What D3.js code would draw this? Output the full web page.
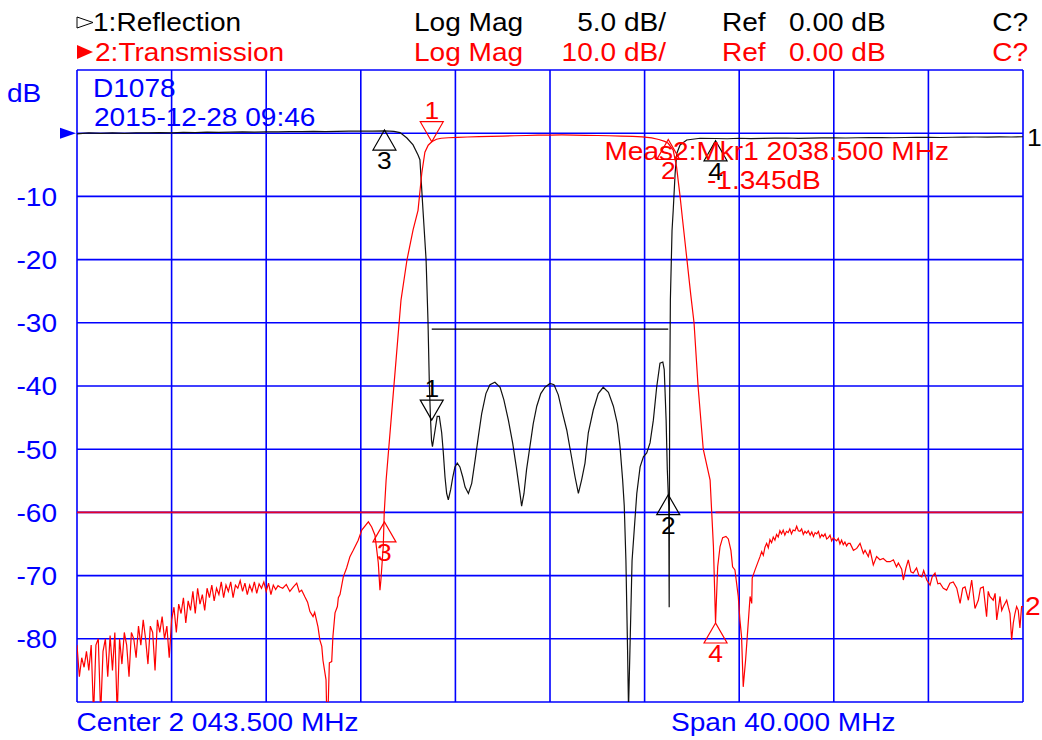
<!DOCTYPE html>
<html lang="en">
<head>
  <meta charset="UTF-8" />
  <title>Filter response</title>
  <script src="https://cdn.jsdelivr.net/npm/d3@7"></script>
  <style>
    body { margin: 0; background: #fff; }
    svg text { font-family: "Liberation Sans", Arial, sans-serif; }
  </style>
</head>
<body>
<svg id="chart" width="1042" height="740"></svg>
<script>
// sweep settings
const startMHz = 2023.5, stopMHz = 2063.5;
const freqGrid = d3.range(0, 11).map(i => startMHz + i * 4);
const dbGrid = d3.range(10, -91, -10);          // trace 2 scale, 10 dB/div
const yTickLabels = [-10, -20, -30, -40, -50, -60, -70, -80];

// trace 1 : reflection (5 dB/div)  [MHz, dB]
const reflection = [
  [2023.5,-0.05],[2024.0,0.02],[2024.5,-0.02],[2025.0,0.03],[2025.5,-0.01],[2026.0,0.03],[2026.5,0.02],
  [2027.0,0.05],[2027.5,0.03],[2028.0,0.06],[2028.5,0.05],[2029.0,0.08],[2029.5,0.06],[2030.0,0.09],
  [2030.5,0.1],[2031.0,0.08],[2031.5,0.11],[2032.0,0.1],[2032.5,0.12],[2033.0,0.12],[2033.5,0.14],
  [2034.0,0.13],[2034.5,0.15],[2035.0,0.16],[2035.5,0.17],[2036.0,0.17],[2036.5,0.18],[2036.9,0.15],
  [2037.16,0.05],[2037.45,-0.38],[2037.71,-0.93],[2037.92,-1.72],[2038.0,-2.1],[2038.13,-6.1],
  [2038.26,-10.0],[2038.34,-14.8],[2038.40,-20.0],[2038.45,-22.7],[2038.49,-24.3],[2038.53,-24.8],
  [2038.64,-23.5],[2038.73,-22.4],[2038.82,-22.4],[2038.92,-23.7],[2038.99,-25.3],[2039.06,-27.2],
  [2039.13,-28.5],[2039.20,-29.0],[2039.30,-28.2],[2039.39,-27.2],[2039.48,-26.4],[2039.58,-26.1],
  [2039.69,-26.4],[2039.81,-27.2],[2039.91,-28.0],[2040.05,-28.5],[2040.19,-27.7],[2040.33,-25.9],
  [2040.47,-24.0],[2040.61,-22.2],[2040.79,-20.6],[2040.96,-19.9],[2041.17,-19.7],[2041.39,-20.1],
  [2041.55,-21.1],[2041.74,-22.7],[2041.92,-24.5],[2042.09,-26.6],[2042.23,-28.5],[2042.30,-29.5],
  [2042.40,-28.5],[2042.51,-26.6],[2042.65,-24.8],[2042.79,-23.0],[2042.94,-21.6],[2043.11,-20.6],
  [2043.29,-20.1],[2043.50,-19.8],[2043.67,-19.9],[2043.85,-20.7],[2044.00,-21.9],[2044.21,-23.5],
  [2044.38,-25.3],[2044.56,-27.2],[2044.70,-28.5],[2044.84,-27.4],[2044.98,-26.1],[2045.12,-23.7],
  [2045.33,-21.9],[2045.54,-20.6],[2045.75,-20.1],[2045.97,-20.5],[2046.18,-21.6],[2046.35,-23.0],
  [2046.46,-24.8],[2046.57,-27.4],[2046.64,-29.5],[2046.71,-33.8],[2046.78,-40.9],[2046.82,-45.6],
  [2046.88,-40.9],[2046.97,-33.8],[2047.17,-28.5],[2047.31,-26.4],[2047.45,-25.6],[2047.59,-25.3],
  [2047.73,-24.5],[2047.87,-22.7],[2048.01,-20.1],[2048.15,-18.2],[2048.27,-18.1],[2048.33,-18.7],
  [2048.41,-22.7],[2048.46,-26.6],[2048.52,-29.5],[2048.54,-37.5],[2048.56,-21.1],[2048.59,-13.2],
  [2048.66,-7.7],[2048.71,-6.1],[2048.79,-3.2],[2048.86,-1.6],[2049.0,-0.93],[2049.28,-0.54],
  [2049.85,-0.40],[2050.5,-0.42],[2051.0,-0.44],[2051.5,-0.4],[2052.0,-0.43],[2052.5,-0.41],
  [2053.0,-0.39],[2053.5,-0.38],[2054.0,-0.41],[2054.5,-0.39],[2055.0,-0.37],[2055.5,-0.36],
  [2056.0,-0.38],[2056.5,-0.36],[2057.0,-0.35],[2057.5,-0.34],[2058.0,-0.36],[2058.5,-0.34],
  [2059.0,-0.33],[2059.5,-0.32],[2060.0,-0.34],[2060.5,-0.32],[2061.0,-0.31],[2061.5,-0.3],
  [2062.0,-0.31],[2062.5,-0.29],[2063.0,-0.3],[2063.5,-0.28]
];

// trace 2 : transmission (10 dB/div)  [MHz, dB]
const transmission = [
  [2023.5,-81],[2023.6,-86],[2023.7,-83],[2023.8,-84.5],[2023.9,-82],[2024.0,-85],[2024.1,-81],
  [2024.2,-92],[2024.3,-81],[2024.4,-80],[2024.5,-92],[2024.6,-82],[2024.7,-80],[2024.8,-86],
  [2024.9,-79.5],[2025.0,-85],[2025.1,-79],[2025.2,-92],[2025.3,-80],[2025.4,-84],[2025.5,-79],
  [2025.6,-81],[2025.7,-86],[2025.8,-79],[2025.9,-80],[2026.0,-83],[2026.1,-78],[2026.2,-81],
  [2026.3,-77],[2026.4,-80],[2026.5,-84],[2026.6,-78],[2026.7,-79],[2026.8,-85],[2026.9,-77],
  [2027.0,-79],[2027.1,-76.5],[2027.2,-80],[2027.3,-78],[2027.4,-83],[2027.5,-77],[2027.6,-75],
  [2027.7,-79],[2027.8,-74.5],[2027.9,-76],[2028.0,-73.5],[2028.1,-77.5],[2028.2,-74],[2028.3,-75.5],
  [2028.4,-72.5],[2028.5,-76],[2028.6,-72],[2028.7,-74.5],[2028.8,-73],[2028.9,-75.5],[2029.0,-72],
  [2029.1,-73.5],[2029.2,-71.5],[2029.3,-74],[2029.4,-72],[2029.5,-73],[2029.6,-71],[2029.7,-73.5],
  [2029.8,-71.5],[2029.9,-72.5],[2030.0,-71],[2030.1,-73.5],[2030.2,-71.5],[2030.3,-72],[2030.4,-70.8],
  [2030.5,-72.5],[2030.6,-71.2],[2030.7,-73],[2030.8,-71.5],[2030.9,-72.5],[2031.0,-71],[2031.1,-72.8],
  [2031.2,-71.3],[2031.3,-72],[2031.4,-71],[2031.5,-72.5],[2031.6,-71.2],[2031.7,-73],[2031.8,-71.5],
  [2031.9,-72.2],[2032.0,-71.6],[2032.08,-71.8],[2032.2,-72.0],[2032.35,-71.4],[2032.5,-72.5],
  [2032.65,-71.8],[2032.79,-71.2],[2032.9,-72.6],[2033.0,-72.3],[2033.14,-73.4],[2033.25,-74.2],
  [2033.35,-75.7],[2033.48,-76.5],[2033.55,-75.8],[2033.69,-78.1],[2033.77,-80.2],[2033.85,-81.2],
  [2033.90,-83.4],[2034.03,-86.5],[2034.06,-92],[2034.11,-92],[2034.17,-83.8],[2034.27,-83.6],
  [2034.32,-79.7],[2034.41,-75.9],[2034.51,-74.9],[2034.55,-73.5],[2034.62,-73.0],[2034.76,-70.2],
  [2034.90,-68.8],[2035.04,-67.0],[2035.18,-66.0],[2035.39,-64.4],[2035.54,-62.8],[2035.82,-61.5],
  [2035.96,-62.3],[2036.10,-63.6],[2036.24,-68.0],[2036.31,-72.3],[2036.35,-70.7],[2036.45,-65.4],
  [2036.49,-60.1],[2036.57,-54.9],[2036.78,-45.4],[2036.99,-35.9],[2037.20,-26.4],[2037.45,-20.1],
  [2037.71,-15.3],[2037.92,-12.2],[2038.08,-6.3],[2038.21,-3.0],[2038.35,-1.9],[2038.5,-1.345],
  [2038.7,-0.95],[2038.9,-0.8],[2039.2,-0.72],[2039.6,-0.65],[2040.0,-0.6],[2040.5,-0.55],
  [2041.0,-0.5],[2041.5,-0.45],[2042.0,-0.4],[2042.5,-0.36],[2043.0,-0.32],[2043.5,-0.3],
  [2044.0,-0.28],[2044.5,-0.3],[2045.0,-0.33],[2045.5,-0.36],[2046.0,-0.4],[2046.5,-0.45],
  [2047.0,-0.5],[2047.4,-0.58],[2047.8,-0.75],[2048.1,-1.0],[2048.35,-1.3],[2048.5,-1.6],
  [2048.71,-2.7],[2048.85,-5.3],[2049.0,-10.0],[2049.1,-13.5],[2049.29,-20.0],[2049.45,-25.5],
  [2049.59,-30.0],[2049.76,-40.0],[2049.98,-50.0],[2050.27,-54.9],[2050.41,-65.4],[2050.5,-77.5],
  [2050.59,-68.6],[2050.69,-65.4],[2050.80,-64.0],[2050.94,-63.8],[2051.04,-64.2],[2051.15,-66.0],
  [2051.22,-68.6],[2051.32,-69.1],[2051.46,-73.3],[2051.53,-77.0],[2051.60,-79.7],[2051.67,-87.6],
  [2051.77,-83.4],[2051.84,-79.7],[2051.91,-76.0],[2051.96,-73.3],[2052.03,-74.4],[2052.05,-70.4],
  [2052.17,-69.1],[2052.38,-67.0],[2052.45,-66.2],[2052.52,-66.8],[2052.59,-65.5],[2052.66,-64.9],
  [2052.73,-65.6],[2052.80,-64.3],[2052.87,-64.8],[2052.94,-63.9],[2053.01,-64.4],[2053.08,-63.5],
  [2053.15,-63.9],[2053.22,-62.9],[2053.29,-63.4],[2053.36,-62.8],[2053.43,-63.6],[2053.50,-63.0],
  [2053.57,-63.2],[2053.64,-62.6],[2053.71,-63.4],[2053.78,-62.8],[2053.86,-62.9],[2053.93,-62.2],
  [2054.00,-62.9],[2054.07,-63.0],[2054.14,-62.6],[2054.21,-63.5],[2054.28,-63.0],[2054.35,-63.3],
  [2054.42,-62.9],[2054.50,-63.6],[2054.57,-63.1],[2054.64,-63.8],[2054.71,-63.2],[2054.78,-63.4],
  [2054.85,-63.0],[2054.92,-64.0],[2054.99,-63.5],[2055.06,-63.8],[2055.13,-63.4],[2055.20,-64.2],
  [2055.27,-64.0],[2055.34,-63.6],[2055.41,-64.5],[2055.48,-64.0],[2055.55,-64.3],[2055.62,-64.5],
  [2055.69,-64.1],[2055.76,-65.0],[2055.83,-64.4],[2055.90,-65.1],[2055.97,-64.7],[2056.04,-65.3],
  [2056.11,-64.9],[2056.19,-64.9],[2056.33,-66.0],[2056.47,-65.7],[2056.61,-64.9],[2056.75,-66.5],
  [2056.82,-66.0],[2056.96,-67.0],[2057.03,-65.9],[2057.17,-68.3],[2057.31,-67.0],[2057.45,-67.5],
  [2057.59,-67.3],[2057.74,-67.8],[2057.88,-67.8],[2058.02,-67.5],[2058.15,-68.6],[2058.23,-68.0],
  [2058.37,-69.0],[2058.44,-70.7],[2058.55,-68.8],[2058.65,-67.5],[2058.76,-69.4],[2058.86,-69.6],
  [2059.00,-68.8],[2059.10,-70.0],[2059.22,-70.2],[2059.30,-69.2],[2059.43,-70.7],[2059.57,-71.5],
  [2059.66,-70.2],[2059.78,-69.6],[2059.90,-71.3],[2059.99,-71.2],[2060.13,-72.0],[2060.27,-72.3],
  [2060.41,-71.2],[2060.55,-71.0],[2060.70,-72.0],[2060.84,-74.4],[2060.95,-72.0],[2061.05,-71.8],
  [2061.19,-73.9],[2061.33,-70.7],[2061.47,-75.2],[2061.61,-73.9],[2061.70,-72.0],[2061.82,-71.8],
  [2061.96,-76.5],[2062.03,-72.5],[2062.10,-73.3],[2062.24,-73.9],[2062.32,-72.8],[2062.39,-77.0],
  [2062.53,-73.3],[2062.60,-75.5],[2062.67,-74.9],[2062.81,-73.9],[2062.88,-75.0],[2062.95,-76.0],
  [2063.02,-80.2],[2063.09,-77.5],[2063.16,-76.0],[2063.23,-74.9],[2063.30,-75.5],[2063.37,-78.3],
  [2063.44,-74.9],[2063.5,-74.9]
];

// limit lines
const reflLimit = [[2038.5, -15.5], [2048.5, -15.5]];
const transLimits = [
  [[2023.5, -60], [2036.5, -60]],
  [[2050.5, -60], [2063.5, -60]]
];

// markers: dir "down" = triangle above the point
const reflMarkers = [
  { id: "1", f: 2038.5, db: -22.7, dir: "down" },
  { id: "2", f: 2048.5, db: -28.6, dir: "up" },
  { id: "3", f: 2036.5, db: 0.25, dir: "up" },
  { id: "4", f: 2050.5, db: -0.6, dir: "up" }
];
const transMarkers = [
  { id: "1", f: 2038.5, db: -1.345, dir: "down" },
  { id: "2", f: 2048.5, db: -1.0, dir: "up" },
  { id: "3", f: 2036.5, db: -61.5, dir: "up" },
  { id: "4", f: 2050.5, db: -77.5, dir: "up" }
];

const BLUE = "#0000ff", RED = "#ff0000", BLACK = "#000";
const FS = 25.5, SX = 1.1;

const svg = d3.select("#chart");
const plotL = 77, plotR = 1023, plotT = 70, plotB = 702;

const x = d3.scaleLinear().domain([startMHz, stopMHz]).range([plotL, plotR]);
const yT = d3.scaleLinear().domain([10, -90]).range([plotT, plotB]);
const yR = d3.scaleLinear().domain([5, -45]).range([plotT, plotB]);

function txt(px, py, str, color, anchor, size) {
  svg.append("text")
    .attr("transform", `translate(${px},${py}) scale(${SX},1)`)
    .attr("text-anchor", anchor || "start")
    .style("font-size", (size || FS) + "px")
    .attr("fill", color)
    .text(str);
}

svg.append("defs").append("clipPath").attr("id", "plot")
  .append("rect").attr("x", plotL).attr("y", plotT)
  .attr("width", plotR - plotL).attr("height", plotB - plotT);

// grid
const grid = svg.append("g").attr("stroke", BLUE).attr("stroke-width", 1.6);
grid.selectAll(".v").data(freqGrid).enter().append("line")
  .attr("x1", d => x(d)).attr("x2", d => x(d))
  .attr("y1", plotT).attr("y2", plotB);
grid.selectAll(".h").data(dbGrid).enter().append("line")
  .attr("x1", plotL).attr("x2", plotR)
  .attr("y1", d => yT(d)).attr("y2", d => yT(d));

// limit lines
svg.selectAll(".tlim").data(transLimits).enter().append("line")
  .attr("x1", d => x(d[0][0])).attr("x2", d => x(d[1][0]))
  .attr("y1", d => yT(d[0][1])).attr("y2", d => yT(d[1][1]))
  .attr("stroke", "#e4002b").attr("stroke-width", 1.6);
svg.append("line")
  .attr("x1", x(reflLimit[0][0])).attr("x2", x(reflLimit[1][0]))
  .attr("y1", yR(reflLimit[0][1])).attr("y2", yR(reflLimit[1][1]))
  .attr("stroke", BLACK).attr("stroke-width", 1.2);

// traces
const plot = svg.append("g").attr("clip-path", "url(#plot)");
plot.append("path").datum(reflection)
  .attr("d", d3.line().x(d => x(d[0])).y(d => yR(d[1])))
  .attr("fill", "none").attr("stroke", "#111").attr("stroke-width", 1.2);
plot.append("path").datum(transmission)
  .attr("d", d3.line().x(d => x(d[0])).y(d => yT(d[1])))
  .attr("fill", "none").attr("stroke", RED).attr("stroke-width", 1.2);

// markers
function drawMarkers(list, yScale, color) {
  list.forEach(m => {
    const mx = x(m.f), my = yScale(m.db);
    const s = m.dir === "down" ? -1 : 1;
    svg.append("path")
      .attr("d", `M${mx},${my}L${mx - 11.5},${my + s * 20}L${mx + 11.5},${my + s * 20}Z`)
      .attr("fill", "none").attr("stroke", color).attr("stroke-width", 1.2);
    txt(mx, s < 0 ? my - 23 : my + 39, m.id, color, "middle", 24);
  });
}
drawMarkers(reflMarkers, yR, BLACK);
drawMarkers(transMarkers, yT, RED);

// header
svg.append("path").attr("d", "M77,17L93,22.5L77,28Z")
  .attr("fill", "none").attr("stroke", BLACK).attr("stroke-width", 1);
svg.append("path").attr("d", "M77,45L93,52L77,59Z").attr("fill", RED);
txt(93, 31, "1:Reflection", BLACK);
txt(95, 61, "2:Transmission", RED);
txt(414, 31, "Log Mag", BLACK);
txt(414, 61, "Log Mag", RED);
txt(666, 31, "5.0 dB/", BLACK, "end");
txt(666, 61, "10.0 dB/", RED, "end");
txt(722, 31, "Ref", BLACK);
txt(722, 61, "Ref", RED);
txt(789, 31, "0.00 dB", BLACK);
txt(789, 61, "0.00 dB", RED);
txt(1028, 31, "C?", BLACK, "end");
txt(1028, 61, "C?", RED, "end");

// reference arrow and axis text
svg.append("path").attr("d", `M60,${yT(0) - 5.5}L76,${yT(0)}L60,${yT(0) + 5.5}Z`).attr("fill", BLUE);
txt(7, 102, "dB", BLUE);
txt(93, 97, "D1078", BLUE);
txt(94, 126, "2015-12-28 09:46", BLUE);
yTickLabels.forEach(v => txt(57, yT(v) + 9.3, String(v), BLUE, "end"));
txt(76.5, 731, "Center 2 043.500 MHz", BLUE);
txt(671, 731, "Span 40.000 MHz", BLUE);

// marker readout
txt(604.5, 160, "Meas2:Mkr1 2038.500 MHz", RED);
txt(707, 189, "-1.345dB", RED);

// trace end labels
txt(1027, yR(reflection[reflection.length - 1][1]) + 9, "1", BLACK, "start", 24);
txt(1025, yT(transmission[transmission.length - 1][1]) + 8, "2", RED, "start", 25.5);
</script>
</body>
</html>
